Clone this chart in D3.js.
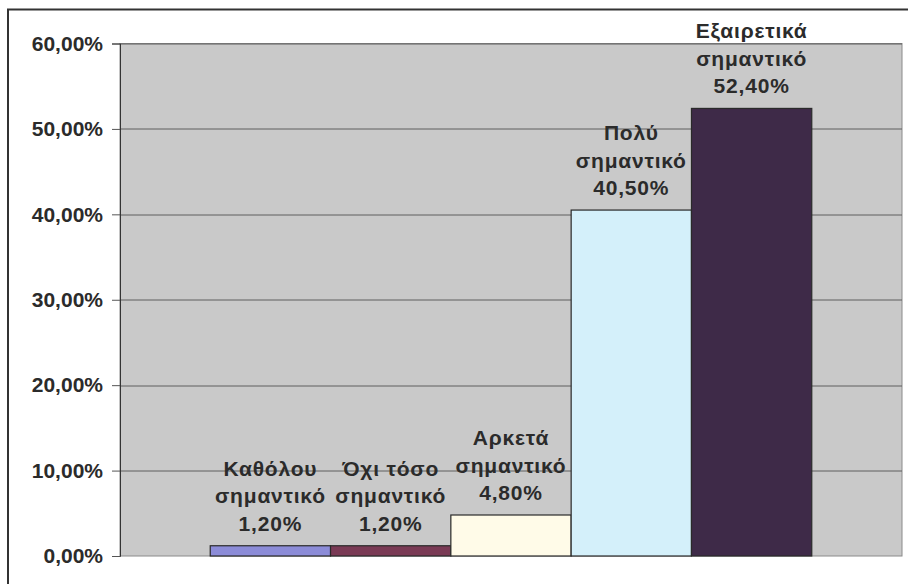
<!DOCTYPE html>
<html>
<head>
<meta charset="utf-8">
<script src="https://cdn.jsdelivr.net/npm/d3@7"></script>
<style>
  body { margin: 0; background: #fff; }
  text { font-family: "Liberation Sans", Arial, sans-serif; font-weight: bold; fill: #2b2b2b; }
</style>
</head>
<body>
<div id="chart"></div>
<script>
// data
const categories = ['Καθόλου σημαντικό', 'Όχι τόσο σημαντικό', 'Αρκετά σημαντικό', 'Πολύ σημαντικό', 'Εξαιρετικά σημαντικό'];
const values = [1.2, 1.2, 4.8, 40.5, 52.4];
const yTicks = [0, 10, 20, 30, 40, 50, 60];
const barColors = ['#8c8cd8', '#7a3a55', '#fffbe8', '#d4f0fa', '#3e2a48'];

var width = 908, height = 584;
var margin = { top: 43.5, right: 6, bottom: 28, left: 120 };
var w = width - margin.left - margin.right,
    h = height - margin.top - margin.bottom;

var locale = d3.formatLocale({ decimal: ',', thousands: '.', grouping: [3], currency: ['', '€'] });
var fmt = locale.format('.2f');

var svg = d3.select('#chart').append('svg')
    .attr('width', width)
    .attr('height', height);

// outer chart frame (runs off the right and bottom edges)
svg.append('rect')
    .attr('x', 8).attr('y', 9.5)
    .attr('width', width + 20).attr('height', height + 20)
    .attr('fill', 'none')
    .attr('stroke', '#333')
    .attr('stroke-width', 2);

var g = svg.append('g')
    .attr('transform', 'translate(' + margin.left + ',' + margin.top + ')');

var x = d3.scaleBand()
    .domain(categories)
    .range([0, w])
    .paddingInner(0)
    .paddingOuter(0.75);

var y = d3.scaleLinear()
    .domain([0, 60])
    .range([h, 0]);

// plot area
g.append('rect')
    .attr('width', w).attr('height', h)
    .attr('fill', '#c9c9c9')
    .attr('stroke', '#8a8a8a');

// gridlines
g.append('g')
    .selectAll('line')
    .data(yTicks.slice(1))
    .enter()
    .append('line')
    .attr('x1', 0).attr('x2', w)
    .attr('y1', function(d) { return Math.round(y(d)) + 0.5; })
    .attr('y2', function(d) { return Math.round(y(d)) + 0.5; })
    .attr('stroke', '#5e5e5e')
    .attr('stroke-width', 1);

// y axis
var yAxis = g.append('g')
    .call(d3.axisLeft(y).tickValues(yTicks).tickSize(8).tickPadding(9)
        .tickFormat(function(d) { return fmt(d) + '%'; }));
yAxis.select('.domain').attr('stroke', '#333');
yAxis.selectAll('.tick line').attr('stroke', '#555');
yAxis.selectAll('.tick text').style('font-size', '21px').attr('fill', '#2b2b2b');

// bars
var data = categories.map(function(c, i) { return { name: c, v: values[i], color: barColors[i] }; });

g.append('g')
    .selectAll('rect')
    .data(data)
    .enter()
    .append('rect')
    .attr('x', function(d) { return x(d.name); })
    .attr('y', function(d) { return y(d.v); })
    .attr('width', x.bandwidth())
    .attr('height', function(d) { return h - y(d.v); })
    .attr('fill', function(d) { return d.color; })
    .attr('stroke', '#2a2a2a')
    .attr('stroke-width', 1.2);

// labels: category name split in two lines, then the value
var labels = g.append('g')
    .selectAll('text')
    .data(data)
    .enter()
    .append('text')
    .attr('text-anchor', 'middle')
    .style('font-size', '21px')
    .style('letter-spacing', '0.8px')
    .attr('x', function(d) { return x(d.name) + x.bandwidth() / 2; })
    .attr('y', function(d) { return y(d.v) - 15; });

labels.each(function(d) {
    var cut = d.name.lastIndexOf(' ');
    var lines = [d.name.slice(0, cut), d.name.slice(cut + 1), fmt(d.v) + '%'];
    var t = d3.select(this);
    lines.forEach(function(l, i) {
        t.append('tspan')
            .attr('x', t.attr('x'))
            .attr('dy', i === 0 ? -(lines.length - 1) * 27.5 : 27.5)
            .text(l);
    });
});
</script>
</body>
</html>
